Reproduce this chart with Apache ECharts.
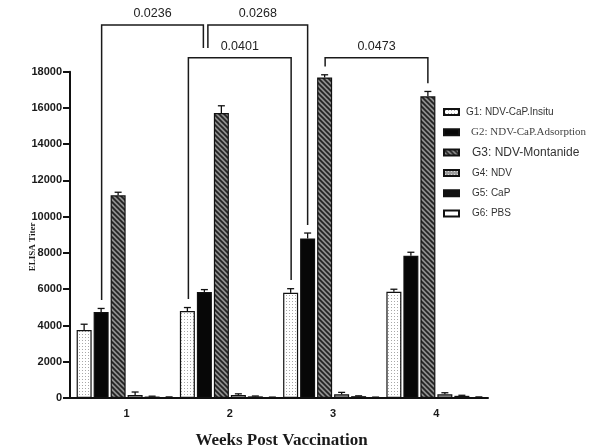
<!DOCTYPE html>
<html>
<head>
<meta charset="utf-8">
<script src="https://cdn.jsdelivr.net/npm/echarts@6/dist/echarts.min.js"></script>
<style>
html,body{margin:0;padding:0;background:#fff;}
#chart{width:594px;height:448px;}
</style>
</head>
<body>
<div id="chart"></div>
<script>
// ---------------- data ----------------
const WEEKS = ['1', '2', '3', '4'];
const GROUPS = ['G1: NDV-CaP.Insitu', 'G2: NDV-CaP.Adsorption', 'G3: NDV-Montanide', 'G4: NDV', 'G5: CaP', 'G6: PBS'];
const G1_MEAN = [3750, 4800, 5800, 5860];
const G1_ERR  = [320, 190, 230, 140];
const G2_MEAN = [4740, 5850, 8800, 7850];
const G2_ERR  = [200, 130, 300, 190];
const G3_MEAN = [11180, 15720, 17680, 16640];
const G3_ERR  = [170, 400, 150, 270];
const G4_MEAN = [170, 170, 200, 200];
const G4_ERR  = [160, 60, 110, 90];
const G5_MEAN = [80, 90, 100, 120];
const G5_ERR  = [20, 20, 20, 30];
const G6_MEAN = [50, 40, 40, 50];
const G6_ERR  = [10, 10, 10, 10];
const Y_MIN = 0, Y_MAX = 18000, Y_STEP = 2000;

// significance brackets: [weekIndex, groupIndex]
const BRACKET_LABELS = ['0.0236', '0.0268', '0.0401', '0.0473'];
const BRACKET_FROM = [[0, 1], [1, 1], [1, 0], [2, 2]];
const BRACKET_TO   = [[1, 1], [2, 1], [2, 0], [3, 2]];
const BRACKET_TOP  = [20580, 20580, 18775, 18775];
const BRACKET_LEFT_END  = [5400, 19310, 5460, 18280];
const BRACKET_RIGHT_END = [19310, 9540, 6510, 17360];

// ---------------- styles ----------------
const MEANS = [G1_MEAN, G2_MEAN, G3_MEAN, G4_MEAN, G5_MEAN, G6_MEAN];
const ERRS = [G1_ERR, G2_ERR, G3_ERR, G4_ERR, G5_ERR, G6_ERR];
const BAR_W = 15;
const BAR_GAP = 0.133;
const BRACKET_LEFT_NUDGE = [0.5, 3.5, 1, 0.5];
const BRACKET_RIGHT_NUDGE = [-1, 0, 0.5, 0];
const AX = '#111';

function pattern(size, draw) {
  const c = document.createElement('canvas');
  c.width = size; c.height = size;
  const ctx = c.getContext('2d');
  draw(ctx, size);
  return { image: c, repeat: 'repeat' };
}
const dotsWhite = pattern(3, (ctx, s) => {
  ctx.fillStyle = '#ffffff'; ctx.fillRect(0, 0, s, s);
  ctx.fillStyle = '#a8a8a8'; ctx.fillRect(1, 1, 1, 1);
});
const stripes = pattern(5, (ctx, s) => {
  ctx.fillStyle = '#8e8e8e'; ctx.fillRect(0, 0, s, s);
  ctx.strokeStyle = '#222'; ctx.lineWidth = 1.7;
  ctx.beginPath();
  ctx.moveTo(-1, -1); ctx.lineTo(s + 1, s + 1);
  ctx.moveTo(s - 1, -1); ctx.lineTo(s + 1, 1);
  ctx.moveTo(-1, s - 1); ctx.lineTo(1, s + 1);
  ctx.stroke();
});
const dotsGrey = pattern(3, (ctx, s) => {
  ctx.fillStyle = '#9c9c9c'; ctx.fillRect(0, 0, s, s);
  ctx.fillStyle = '#dddddd'; ctx.fillRect(1, 1, 1, 1);
});
const FILLS = [dotsWhite, '#070707', stripes, dotsGrey, '#111111', '#ffffff'];

const SANS = '"Liberation Sans", Arial, sans-serif';
const SERIF = '"Liberation Serif", "Times New Roman", serif';
const LEGEND_FONTS = [
  { fontFamily: SANS, fontSize: 10, color: '#333' },
  { fontFamily: SERIF, fontSize: 11, color: '#444' },
  { fontFamily: SANS, fontSize: 12, color: '#333' },
  { fontFamily: SANS, fontSize: 10, color: '#333' },
  { fontFamily: SANS, fontSize: 10, color: '#333' },
  { fontFamily: SANS, fontSize: 10, color: '#333' }
];
const LEGEND_TEXT_PAD = [2, 7, 8, 8, 8, 8];

function groupOffset(g) {
  return (g - (GROUPS.length - 1) / 2) * BAR_W * (1 + BAR_GAP);
}

const barSeries = GROUPS.map((name, g) => ({
  name: name,
  type: 'bar',
  data: MEANS[g],
  barWidth: BAR_W,
  barGap: (BAR_GAP * 100) + '%',
  itemStyle: { color: FILLS[g], borderColor: AX, borderWidth: 1.2 },
  emphasis: { disabled: true },
  z: 2
}));

const errData = [];
GROUPS.forEach((_, g) => WEEKS.forEach((__, w) => errData.push([w, MEANS[g][w], ERRS[g][w], g])));

const errSeries = {
  type: 'custom',
  name: 'err',
  coordinateSystem: 'cartesian2d',
  data: errData,
  encode: { x: 0, y: 1 },
  silent: true,
  z: 5,
  renderItem: function (params, api) {
    const w = api.value(0), m = api.value(1), e = api.value(2), g = api.value(3);
    const base = api.coord([w, m]);
    const top = api.coord([w, m + e]);
    const x = base[0] + groupOffset(g);
    const half = 3.5;
    return {
      type: 'group',
      children: [
        { type: 'line', shape: { x1: x, y1: base[1], x2: x, y2: top[1] }, style: { stroke: AX, lineWidth: 1.3 } },
        { type: 'line', shape: { x1: x - half, y1: top[1], x2: x + half, y2: top[1] }, style: { stroke: AX, lineWidth: 1.3 } }
      ]
    };
  }
};

const bracketSeries = {
  type: 'custom',
  name: 'brackets',
  coordinateSystem: 'cartesian2d',
  data: BRACKET_LABELS.map((_, i) => [BRACKET_FROM[i][0], BRACKET_TOP[i]]),
  encode: { x: 0, y: 1 },
  silent: true,
  clip: false,
  z: 6,
  renderItem: function (params, api) {
    const i = params.dataIndex;
    const f = BRACKET_FROM[i], t = BRACKET_TO[i];
    const x1 = api.coord([f[0], 0])[0] + groupOffset(f[1]) + BRACKET_LEFT_NUDGE[i];
    const x2 = api.coord([t[0], 0])[0] + groupOffset(t[1]) + BRACKET_RIGHT_NUDGE[i];
    const yT = api.coord([0, BRACKET_TOP[i]])[1];
    const yL = api.coord([0, BRACKET_LEFT_END[i]])[1];
    const yR = api.coord([0, BRACKET_RIGHT_END[i]])[1];
    return {
      type: 'group',
      children: [
        { type: 'polyline', shape: { points: [[x1, yL], [x1, yT], [x2, yT], [x2, yR]] },
          style: { stroke: '#1a1a1a', lineWidth: 1.5, fill: null } },
        { type: 'text', style: { text: BRACKET_LABELS[i], x: (x1 + x2) / 2, y: yT - 11,
          align: 'center', verticalAlign: 'middle', textAlign: 'center', textVerticalAlign: 'middle',
          fontFamily: SANS, fontSize: 12.5, fill: '#222' } }
      ]
    };
  }
};

const GRID_LEFT = 75, GRID_TOP = 71.7, GRID_BOTTOM = 50, GRID_RIGHT = 106;

const chart = echarts.init(document.getElementById('chart'), null, { renderer: 'canvas' });
chart.setOption({
  backgroundColor: '#ffffff',
  animation: false,
  grid: { left: GRID_LEFT, right: GRID_RIGHT, top: GRID_TOP, bottom: GRID_BOTTOM, containLabel: false, outerBoundsMode: 'none' },
  legend: {
    orient: 'vertical',
    left: 443,
    top: 106,
    padding: 0,
    itemWidth: 15,
    itemHeight: 6,
    itemGap: 8.3,
    icon: 'rect',
    selectedMode: false,
    textStyle: { fontFamily: SANS, fontSize: 10, lineHeight: 12, color: '#333' },
    data: GROUPS.map((n, g) => ({ name: n, textStyle: Object.assign({ lineHeight: 12, padding: [0, 0, 0, LEGEND_TEXT_PAD[g]] }, LEGEND_FONTS[g]) }))
  },
  xAxis: {
    type: 'category',
    data: WEEKS,
    name: 'Weeks Post Vaccination',
    nameLocation: 'middle',
    nameGap: 34,
    nameMoveOverlap: false,
    nameTextStyle: { fontFamily: SERIF, fontWeight: 'bold', fontSize: 17, color: '#1a1a1a' },
    axisLine: { lineStyle: { color: AX, width: 2 } },
    axisTick: { alignWithLabel: true, length: 6, lineStyle: { color: AX, width: 2 } },
    axisLabel: { fontFamily: SANS, fontWeight: 'bold', fontSize: 11, color: '#1a1a1a', margin: 10 },
    splitLine: { show: false }
  },
  yAxis: {
    type: 'value',
    min: Y_MIN,
    max: Y_MAX,
    interval: Y_STEP,
    offset: 5,
    name: 'ELISA Titer',
    nameLocation: 'middle',
    nameGap: 33,
    nameMoveOverlap: false,
    nameTextStyle: { fontFamily: SERIF, fontWeight: 'bold', fontSize: 9, color: '#1a1a1a', padding: [0, 24, 0, 0] },
    axisLine: { show: true, lineStyle: { color: AX, width: 2 } },
    axisTick: { show: true, length: 7, lineStyle: { color: AX, width: 2 } },
    axisLabel: { fontFamily: SANS, fontWeight: 'bold', fontSize: 11, color: '#1a1a1a', margin: 8,
      formatter: function (v) { return String(v); } },
    splitLine: { show: false }
  },
  graphic: [
    { type: 'line', shape: { x1: GRID_LEFT - 6, y1: 448 - GRID_BOTTOM, x2: GRID_LEFT + 1, y2: 448 - GRID_BOTTOM },
      style: { stroke: AX, lineWidth: 2 }, silent: true }
  ],
  series: barSeries.concat([errSeries, bracketSeries])
});
</script>
</body>
</html>
